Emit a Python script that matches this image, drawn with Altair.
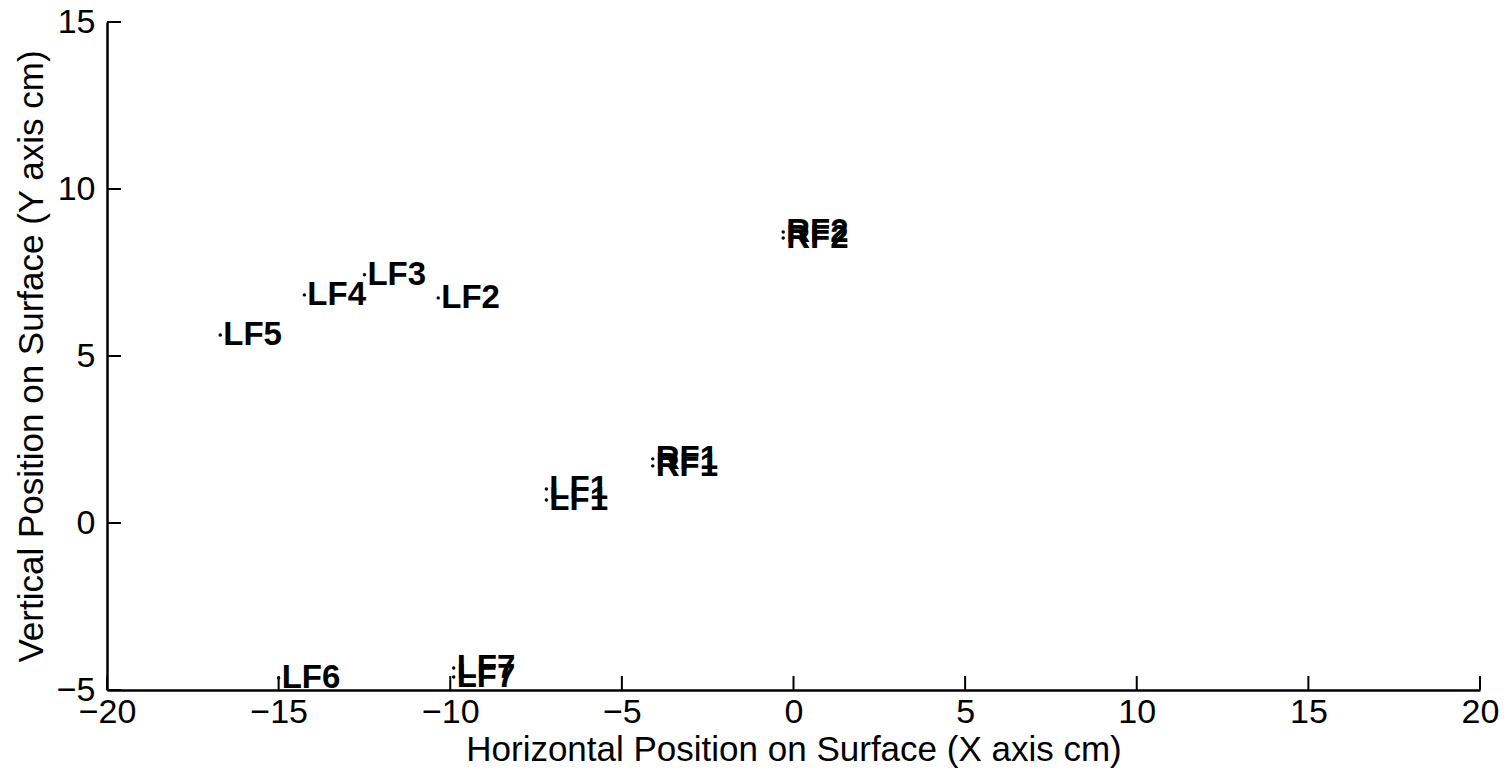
import altair as alt
import pandas as pd

# Point labels and positions (cm)
labels = ["LF1", "LF1", "LF2", "LF3", "LF4", "LF5", "LF6", "LF7", "LF7", "RF1", "RF1", "RF2", "RF2"]
xs = [-7.2, -7.2, -10.35, -12.5, -14.25, -16.7, -15.0, -9.9, -9.9, -4.1, -4.1, -0.3, -0.3]
ys = [1.02, 0.69, 6.74, 7.43, 6.83, 5.63, -4.64, -4.34, -4.61, 1.92, 1.71, 8.71, 8.53]

x_ticks = [-20, -15, -10, -5, 0, 5, 10, 15, 20]
y_ticks = [-5, 0, 5, 10, 15]

df = pd.DataFrame({"x": xs, "y": ys, "label": labels})
dxt = pd.DataFrame({"t": x_ticks})
dyt = pd.DataFrame({"t": y_ticks})

W, H = 1373, 668
FONT = "Liberation Sans"

xscale = alt.Scale(domain=[-20, 20], nice=False, zero=False)
yscale = alt.Scale(domain=[-5, 15], nice=False, zero=False)

xaxis = alt.Axis(values=x_ticks, title="Horizontal Position on Surface (X axis cm)",
                 grid=False, tickSize=0, labelPadding=5, titlePadding=3,
                 domainColor="black", domainWidth=2.5, labelFont=FONT, titleFont=FONT,
                 labelFontSize=34, titleFontSize=35, titleFontWeight="normal",
                 labelColor="black", titleColor="black", labelFlush=False, labelOverlap=False)
yaxis = alt.Axis(values=y_ticks, title="Vertical Position on Surface (Y axis cm)",
                 grid=False, tickSize=0, labelPadding=12, titlePadding=7,
                 domainColor="black", domainWidth=2.5, labelFont=FONT, titleFont=FONT,
                 labelFontSize=34, titleFontSize=35, titleFontWeight="normal",
                 labelColor="black", titleColor="black", labelFlush=False, labelOverlap=False)

pts = alt.Chart(df).mark_point(filled=True, shape="circle", size=12, color="black", opacity=1).encode(
    x=alt.X("x:Q", scale=xscale, axis=xaxis),
    y=alt.Y("y:Q", scale=yscale, axis=yaxis),
)

txt = alt.Chart(df).mark_text(align="left", baseline="middle", dx=3, font=FONT,
                              fontSize=33, fontWeight="bold", color="black").encode(
    x=alt.X("x:Q", scale=xscale),
    y=alt.Y("y:Q", scale=yscale),
    text="label:N",
)

xt = alt.Chart(dxt).mark_rule(color="black", strokeWidth=2).encode(
    x=alt.X("t:Q", scale=xscale),
    y=alt.value(H),
    y2=alt.value(H - 14),
)
yt = alt.Chart(dyt).mark_rule(color="black", strokeWidth=2).encode(
    y=alt.Y("t:Q", scale=yscale),
    x=alt.value(0),
    x2=alt.value(14),
)

chart = alt.layer(pts, xt, yt, txt).properties(
    width=W, height=H,
    padding={"left": 107, "top": 22, "right": 32, "bottom": 83},
    autosize=alt.AutoSizeParams(type="none"),
    background="white",
).configure_view(stroke=None)

chart.save("out.html", embed_options={"renderer": "svg", "actions": False})
